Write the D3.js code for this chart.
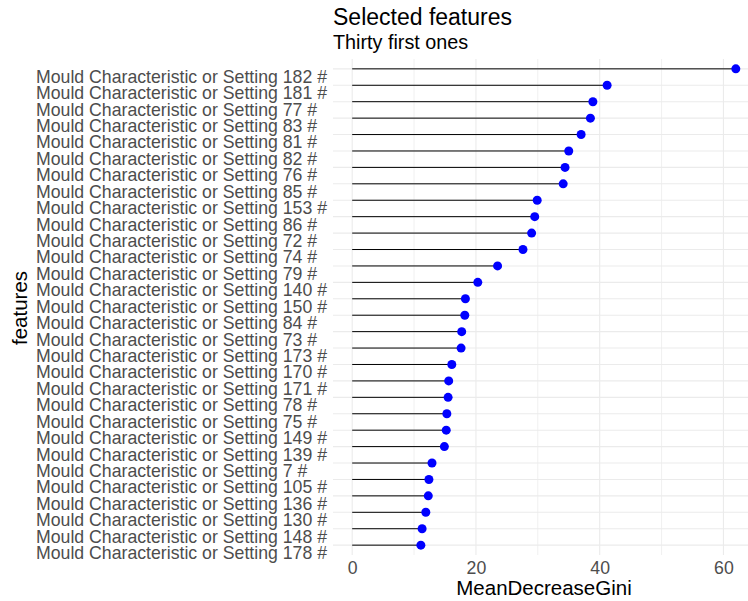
<!DOCTYPE html>
<html>
  <head>
    <script src="https://cdnjs.cloudflare.com/ajax/libs/d3/7.8.5/d3.min.js"></script>
    <style>
      body { margin: 0; background: #fff; }
      text { font-family: "Liberation Sans", Arial, sans-serif; }
    </style>
  </head>
  <body>
    <div id="vis"></div>
    <script type="text/javascript">

        // feature ids, top to bottom, and their importance
        const featureIds = [182, 181, 77, 83, 81, 82, 76, 85, 153, 86,
                            72, 74, 79, 140, 150, 84, 73, 173, 170, 171,
                            78, 75, 149, 139, 7, 105, 136, 130, 148, 178];
        const giniValues = [62.0, 41.2, 38.9, 38.5, 37.0, 35.0, 34.4, 34.1, 29.9, 29.5,
                            29.0, 27.6, 23.5, 20.3, 18.3, 18.2, 17.7, 17.6, 16.1, 15.6,
                            15.5, 15.3, 15.2, 14.9, 12.9, 12.4, 12.3, 11.9, 11.3, 11.1];
        const xTicks = [0, 20, 40, 60];
        const xMinorTicks = [10, 30, 50];

        const labels = featureIds.map(d => "Mould Characteristic or Setting " + d + " #");
        const data = labels.map((d, i) => ({label: d, value: giniValues[i]}));

        const width = 748, height = 601;
        const panel = {left: 333, right: 755, top: 59, bottom: 555};
        const labelLeft = 36;

        const svg = d3.select("#vis")
            .append("svg")
            .attr("width", width)
            .attr("height", height);

        const maxV = d3.max(giniValues);
        const x = d3.scaleLinear()
            .domain([-0.05 * maxV, maxV * 1.05])
            .range([panel.left, panel.right]);

        const y = d3.scalePoint()
            .domain(labels)
            .range([panel.top, panel.bottom])
            .padding(0.6);

        // grid
        const grid = svg.append("g");
        grid.selectAll("line.minor")
            .data(xMinorTicks)
            .enter().append("line")
            .attr("x1", d => x(d)).attr("x2", d => x(d))
            .attr("y1", panel.top).attr("y2", panel.bottom)
            .attr("stroke", "#f0f0f0").attr("stroke-width", 1);
        grid.selectAll("line.major")
            .data(xTicks)
            .enter().append("line")
            .attr("x1", d => x(d)).attr("x2", d => x(d))
            .attr("y1", panel.top).attr("y2", panel.bottom)
            .attr("stroke", "#ebebeb").attr("stroke-width", 1.1);
        grid.selectAll("line.row")
            .data(labels)
            .enter().append("line")
            .attr("x1", panel.left).attr("x2", panel.right)
            .attr("y1", d => y(d)).attr("y2", d => y(d))
            .attr("stroke", "#ebebeb").attr("stroke-width", 1.1);

        // lollipops
        svg.append("g").selectAll("line")
            .data(data)
            .enter().append("line")
            .attr("x1", x(0)).attr("x2", d => x(d.value))
            .attr("y1", d => y(d.label)).attr("y2", d => y(d.label))
            .attr("stroke", "#000").attr("stroke-width", 1);
        svg.append("g").selectAll("circle")
            .data(data)
            .enter().append("circle")
            .attr("cx", d => x(d.value))
            .attr("cy", d => y(d.label))
            .attr("r", 4.5)
            .attr("fill", "#0000ff");

        // axes (y labels are left-justified and sit a little below their row)
        const yAxis = svg.append("g")
            .attr("transform", `translate(${panel.left},0)`)
            .call(d3.axisLeft(y).tickSize(0));
        yAxis.select(".domain").remove();
        yAxis.selectAll("text")
            .attr("x", labelLeft - panel.left)
            .attr("dy", 13.4)
            .attr("text-anchor", "start")
            .attr("fill", "#4d4d4d")
            .style("font-size", "17.7px");

        const xAxis = svg.append("g")
            .attr("transform", `translate(0,${panel.bottom})`)
            .call(d3.axisBottom(x).tickValues(xTicks).tickSize(0).tickPadding(6));
        xAxis.select(".domain").remove();
        xAxis.selectAll("text")
            .attr("fill", "#4d4d4d")
            .style("font-size", "17.7px");

        // titles
        svg.append("text")
            .attr("x", 544).attr("y", 595)
            .attr("text-anchor", "middle")
            .style("font-size", "20.5px")
            .text("MeanDecreaseGini");

        svg.append("text")
            .attr("transform", "translate(27,308) rotate(-90)")
            .attr("text-anchor", "middle")
            .style("font-size", "20.5px")
            .text("features");

        svg.append("text")
            .attr("x", 333).attr("y", 25)
            .style("font-size", "23px")
            .text("Selected features");

        svg.append("text")
            .attr("x", 333).attr("y", 49)
            .style("font-size", "19.8px")
            .text("Thirty first ones");

    </script>
  </body>
</html>
